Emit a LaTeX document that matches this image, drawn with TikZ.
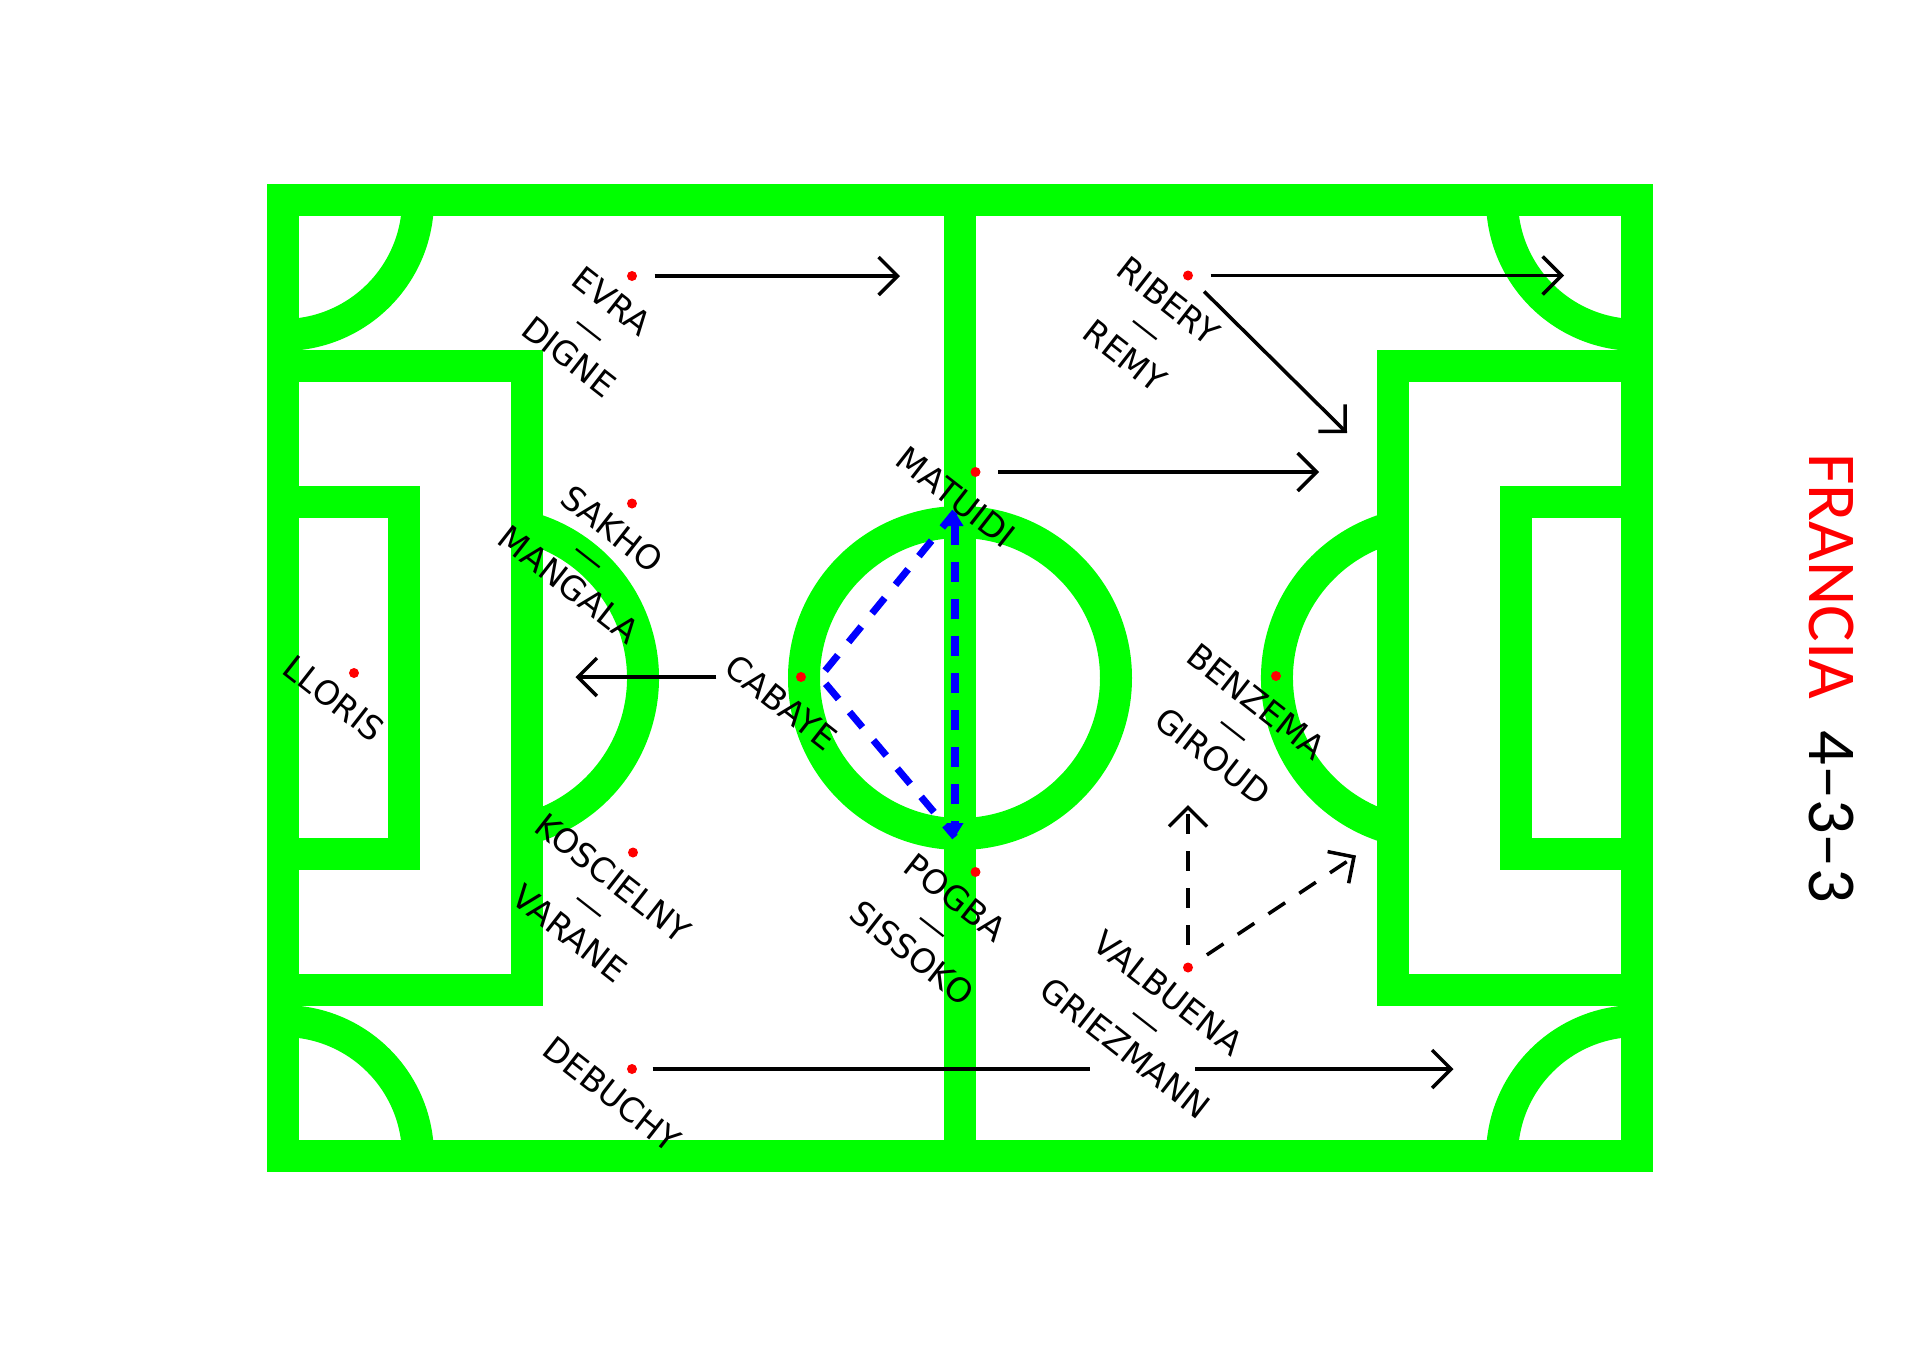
\documentclass[tikz,border=0pt]{standalone}
\usepackage{fontspec}
\setmainfont{DejaVu Sans}
\newfontfamily\titlefont{Carlito}
\usepackage{xcolor}
\usepackage{tikz}
\usetikzlibrary{arrows.meta,calc}
\definecolor{pitchgreen}{RGB}{0,255,0}

\begin{document}
\begin{tikzpicture}[
    chalk/.style={draw=pitchgreen, line width=0.32cm},
    player/.style={circle, fill=red, inner sep=0pt, minimum size=0.1cm},
    roster/.style={rotate=-38, anchor=north, align=center, inner sep=0pt, font=\fontsize{9.5}{10}\selectfont},
    arrow/.style={-{Straight Barb[length=0.19cm, width=0.38cm]}, line width=1pt, shorten <=0.17cm},
    run/.style={arrow, dash pattern=on 0.2cm off 0.17cm},
    pass/.style={draw=blue, line width=2pt, dash pattern=on 0.2cm off 0.17cm}
]
\useasboundingbox (-9.6,-6.78) rectangle (9.6,6.78);

\draw [chalk] (-6.77,-4.78) rectangle (6.77,4.78);
\draw [chalk] (0,-4.78) -- (0,4.78);
\draw [chalk] (0,0) circle[radius=1.56];
\draw [chalk] (-6.77,-3.12) rectangle (-4.33,3.12);
\draw [chalk] (4.33,-3.12) rectangle (6.77,3.12);
\draw [chalk] (-6.77,-1.76) rectangle (-5.56,1.76);
\draw [chalk] (5.56,-1.76) rectangle (6.77,1.76);
\draw [chalk] ([shift={(-75:1.56)}]-4.73,0) arc[start angle=-75, end angle=75, radius=1.56];
\draw [chalk] ([shift={(105:1.56)}]4.73,0) arc[start angle=105, end angle=255, radius=1.56];
\draw [chalk] (-5.42,4.78) arc[start angle=0, end angle=-90, radius=1.35];
\draw [chalk] (5.42,4.78) arc[start angle=180, end angle=270, radius=1.35];
\draw [chalk] (-5.42,-4.78) arc[start angle=0, end angle=90, radius=1.35];
\draw [chalk] (5.42,-4.78) arc[start angle=180, end angle=90, radius=1.35];

\node [player] (lloris) at (-6.06,0.05) {};
\node [player] (evra) at (-3.28,4.02) {};
\node [player] (sakho) at (-3.28,1.745) {};
\node [player] (koscielny) at (-3.27,-1.745) {};
\node [player] (debuchy) at (-3.28,-3.91) {};
\node [player] (cabaye) at (-1.59,0.01) {};
\node [player] (matuidi) at (0.155,2.06) {};
\node [player] (pogba) at (0.155,-1.94) {};
\node [player] (ribery) at (2.28,4.025) {};
\node [player] (benzema) at (3.16,0.02) {};
\node [player] (valbuena) at (2.28,-2.895) {};

\node [roster] (llorisName) at ($(lloris)+(-128:0.19)$) {LLORIS};
\node [roster] (evraName) at ($(evra)+(-128:0.19)$) {EVRA\\—\\DIGNE};
\node [roster] (sakhoName) at ($(sakho)+(-128:0.19)$) {SAKHO\\—\\MANGALA};
\node [roster] (koscielnyName) at ($(koscielny)+(-128:0.19)$) {KOSCIELNY\\—\\VARANE};
\node [roster] (debuchyName) at ($(debuchy)+(-128:0.19)$) {DEBUCHY};
\node [roster] (cabayeName) at ($(cabaye)+(-128:0.19)$) {CABAYE};
\node [roster] (matuidiName) at ($(matuidi)+(-128:0.19)$) {MATUIDI};
\node [roster] (pogbaName) at ($(pogba)+(-128:0.19)$) {POGBA\\—\\SISSOKO};
\node [roster] (riberyName) at ($(ribery)+(-128:0.19)$) {RIBERY\\—\\REMY};
\node [roster] (benzemaName) at ($(benzema)+(-128:0.19)$) {BENZEMA\\—\\GIROUD};
\node [roster] (valbuenaName) at ($(valbuena)+(-128:0.19)$) {VALBUENA\\—\\GRIEZMANN};

\node [rotate=-90, font=\titlefont\fontsize{19.5}{24}\selectfont] (title) at (8.71,0) {\textcolor{red}{FRANCIA}\ \ 4–3–3};

\coordinate (evraRun) at (-0.60,4.02);
\coordinate (riberyRun) at (6.04,4.025);
\coordinate (riberyCut) at (3.87,2.45);
\coordinate (matuidiRun) at (3.59,2.06);
\coordinate (cabayeDrop) at (-3.845,0.01);
\coordinate (valbuenaUp) at (2.28,-1.27);
\coordinate (valbuenaCut) at (3.96,-1.775);
\coordinate (debuchyGapL) at (1.30,-3.91);
\coordinate (debuchyGapR) at (2.35,-3.91);
\coordinate (debuchyRun) at (4.935,-3.91);

\draw [arrow] (evra) -- (evraRun);
\draw [arrow] (ribery) -- (riberyRun);
\draw [arrow] (ribery) -- (riberyCut);
\draw [arrow] (matuidi) -- (matuidiRun);
\draw [arrow, shorten <=0.79cm] (cabaye) -- (cabayeDrop);
\draw [run] (valbuena) -- (valbuenaUp);
\draw [run] (valbuena) -- (valbuenaCut);
\draw [line width=1pt, shorten <=0.15cm] (debuchy) -- (debuchyGapL);
\draw [arrow, shorten <=0pt] (debuchyGapR) -- (debuchyRun);

\coordinate (passTop) at (-0.05,1.66);
\coordinate (passLeft) at (-1.40,0.01);
\coordinate (passBottom) at (-0.05,-1.59);

\draw [pass] (passTop) -- (passLeft) -- (passBottom);
\draw [pass, {Triangle[length=0.14cm, width=0.16cm]}-{Triangle[length=0.14cm, width=0.16cm]}] (passTop) -- (passBottom);

\end{tikzpicture}
\end{document}
